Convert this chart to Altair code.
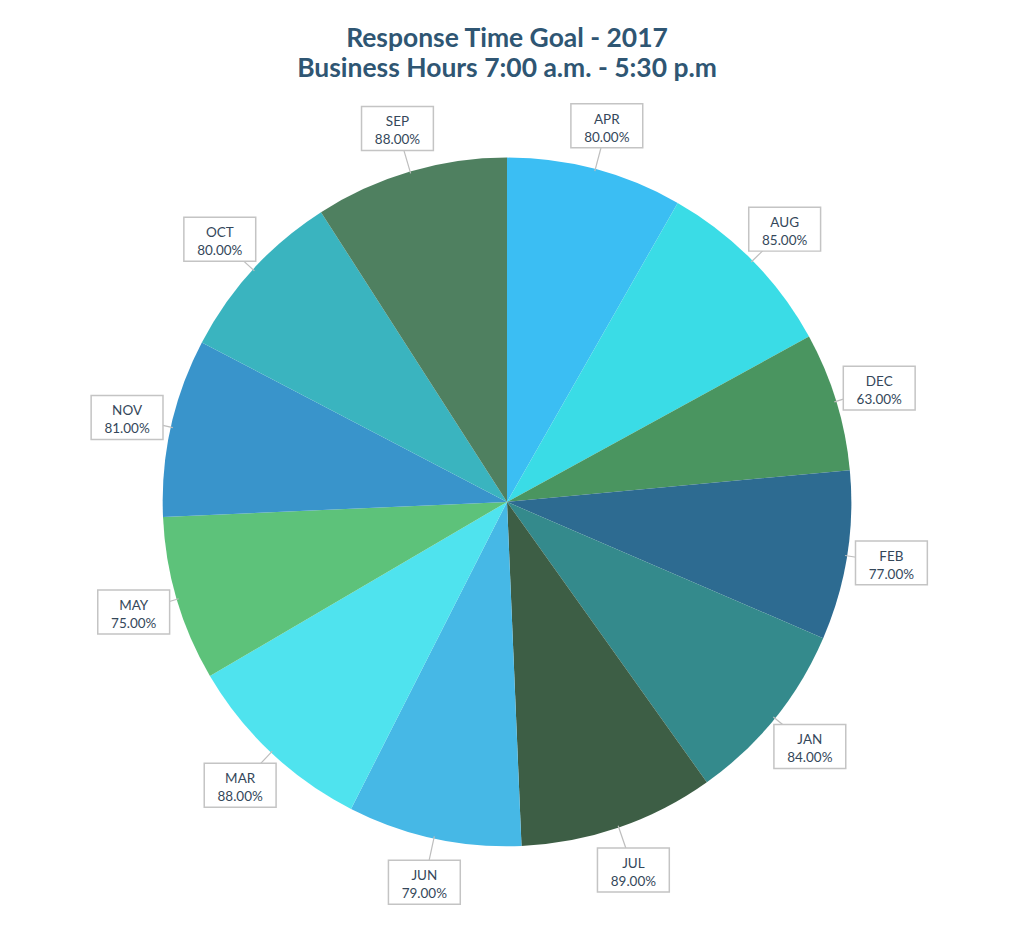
import altair as alt
import pandas as pd

months = ["APR", "AUG", "DEC", "FEB", "JAN", "JUL", "JUN", "MAR", "MAY", "NOV", "OCT", "SEP"]
values = [80, 85, 63, 77, 84, 89, 79, 88, 75, 81, 80, 88]
labels = ["80.00%", "85.00%", "63.00%", "77.00%", "84.00%", "89.00%",
          "79.00%", "88.00%", "75.00%", "81.00%", "80.00%", "88.00%"]
colors = ["#3BBEF3", "#3ADCE6", "#4A9560", "#2D6B91", "#348A8C", "#3D5E45",
          "#46B8E6", "#4FE3EE", "#5DC27A", "#3994CB", "#3AB4BF", "#4F8060"]

df = pd.DataFrame({
    "idx": list(range(len(months))),
    "month": months,
    "value": values,
    "pct": labels,
})
df["label"] = df["month"] + "\n" + df["pct"]

W, H = 1000, 816
R = 345
RL = 390

base = alt.Chart(df)

pie = base.mark_arc(radius=R, strokeWidth=0).encode(
    theta=alt.Theta("value:Q", stack=True),
    order=alt.Order("idx:Q"),
    color=alt.Color("month:N", scale=alt.Scale(domain=months, range=colors), legend=None),
)

geo = base.transform_joinaggregate(total="sum(value)").transform_window(
    cum="sum(value)", sort=[alt.SortField("idx")], frame=[None, 0]
).transform_calculate(
    mid="(datum.cum - datum.value/2) / datum.total * 2 * PI",
).transform_calculate(
    lx=f"{RL} * sin(datum.mid)",
    ly=f"{RL} * cos(datum.mid)",
    ex=f"{R - 2} * sin(datum.mid)",
    ey=f"{R - 2} * cos(datum.mid)",
    bx1="datum.lx - 36",
    bx2="datum.lx + 36",
    by1="datum.ly - 22",
    by2="datum.ly + 22",
)

xs = alt.Scale(domain=[-W / 2, W / 2], nice=False, zero=False)
ys = alt.Scale(domain=[-H / 2, H / 2], nice=False, zero=False)

tails = geo.mark_rule(color="#BDBDBD", strokeWidth=1.2).encode(
    x=alt.X("ex:Q", scale=xs, axis=None),
    y=alt.Y("ey:Q", scale=ys, axis=None),
    x2="lx:Q",
    y2="ly:Q",
)

boxes = geo.mark_rect(fill="#FFFFFF", stroke="#C4C4C4", strokeWidth=1.5).encode(
    x=alt.X("bx1:Q", scale=xs, axis=None),
    x2="bx2:Q",
    y=alt.Y("by1:Q", scale=ys, axis=None),
    y2="by2:Q",
)

texts = geo.mark_text(
    font="Lato", fontSize=13.5, color="#34475A", lineHeight=18,
    align="center", baseline="middle", lineBreak="\n", dy=-6,
).encode(
    x=alt.X("lx:Q", scale=xs, axis=None),
    y=alt.Y("ly:Q", scale=ys, axis=None),
    text="label:N",
)

chart = alt.layer(pie, tails, boxes, texts).properties(
    width=W,
    height=H,
    padding={"top": 17, "left": 0, "right": 0, "bottom": 10},
    title=alt.Title(
        ["Response Time Goal - 2017", "Business Hours 7:00 a.m. - 5:30 p.m"],
        font="Lato",
        fontSize=26.5,
        fontWeight="bold",
        color="#2F5673",
        lineHeight=30,
        anchor="middle",
        offset=12,
    ),
).configure(background="#FFFFFF").configure_view(strokeWidth=0, stroke=None)

chart.save("out.html", embed_options={"renderer": "svg", "actions": False})
